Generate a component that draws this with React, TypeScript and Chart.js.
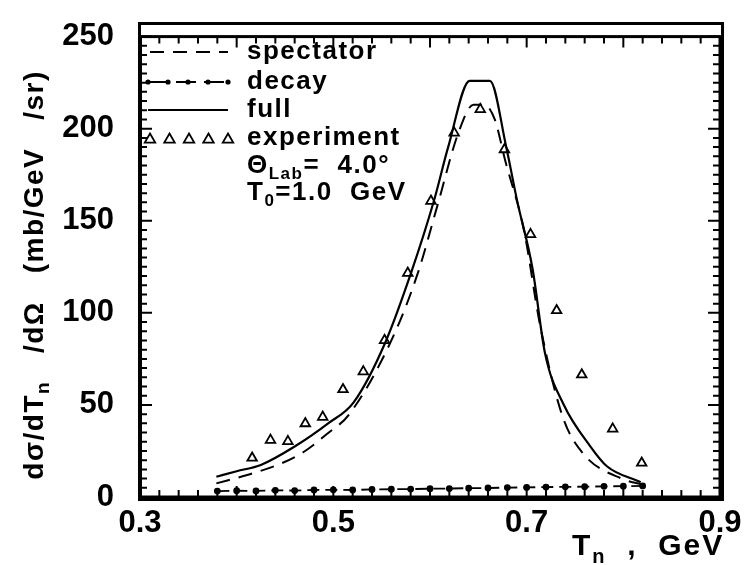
import React, { useEffect, useRef } from "react";
import { Chart, registerables } from "chart.js";
Chart.register(...registerables);

// ---- data ----
const xTickValues = [0.3, 0.5, 0.7, 0.9];
const yTickStep = 50;

const fullX = [0.379, 0.4, 0.425, 0.46, 0.495, 0.521, 0.554, 0.581, 0.604, 0.619, 0.641, 0.662, 0.679, 0.69, 0.706, 0.719, 0.738, 0.766, 0.783, 0.818];
const fullY = [11, 14, 17.4, 27.4, 40.1, 51.4, 84.2, 122.6, 160.7, 190.4, 226, 226, 189.7, 161.2, 124.2, 78, 50.5, 27.4, 16.7, 8];

const specX = [0.379, 0.41, 0.446, 0.47, 0.495, 0.516, 0.561, 0.588, 0.607, 0.63, 0.645, 0.656, 0.667, 0.678, 0.697, 0.714, 0.737, 0.758, 0.8, 0.818];
const specY = [7.4, 11.8, 18.2, 24.7, 34.9, 44.6, 86.1, 122.5, 157, 198.7, 213, 213, 205, 182.3, 145.4, 93, 44, 23.8, 9.6, 7];

const decayX = [0.38, 0.4, 0.42, 0.44, 0.46, 0.48, 0.5, 0.52, 0.54, 0.56, 0.58, 0.6, 0.62, 0.64, 0.66, 0.68, 0.7, 0.72, 0.74, 0.76, 0.78, 0.8, 0.82];
const decayY = [3.2, 3.4, 3.3, 3.6, 3.5, 3.8, 3.9, 3.8, 4.1, 4.2, 4.3, 4.5, 4.6, 4.8, 4.9, 5.1, 5.2, 5.4, 5.5, 5.6, 5.8, 5.9, 6.0];

const expX = [0.416, 0.435, 0.453, 0.471, 0.489, 0.51, 0.531, 0.553, 0.577, 0.601, 0.625, 0.652, 0.677, 0.704, 0.731, 0.757, 0.789, 0.819];
const expY = [21.2, 30.9, 30.2, 39.9, 43.4, 58.4, 68.1, 85.1, 121.6, 160.7, 197.7, 210.5, 188.7, 142.6, 101.3, 66.4, 37, 18.5];

const legendLabels = ["spectator", "decay", "full", "experiment"];

const FONT = "'Liberation Sans', Arial, Helvetica, sans-serif";

const pts = (xs: number[], ys: number[]) => xs.map((x, i) => ({ x, y: ys[i] }));

function triangle(ctx: CanvasRenderingContext2D, x: number, y: number, r: number) {
  ctx.beginPath();
  ctx.moveTo(x, y - r);
  ctx.lineTo(x + r * 0.95, y + r * 0.65);
  ctx.lineTo(x - r * 0.95, y + r * 0.65);
  ctx.closePath();
  ctx.stroke();
}

function pieces(ctx: any, x: number, y: number, parts: [string, number, number][], spacing: number) {
  let cx = x;
  for (const [t, size, dy] of parts) {
    ctx.font = `bold ${size}px ${FONT}`;
    ctx.letterSpacing = `${spacing}px`;
    ctx.fillText(t, cx, y + dy);
    cx += ctx.measureText(t).width;
  }
  ctx.letterSpacing = "0px";
  return cx;
}

const framePlugin = {
  id: "frameBox",
  afterDraw(chart: any) {
    const ctx = chart.ctx;
    const a = chart.chartArea;
    const xs = chart.scales.x;
    const ys = chart.scales.y;
    ctx.save();
    ctx.setLineDash([]);
    ctx.strokeStyle = "#000";
    ctx.lineWidth = 3;
    ctx.strokeRect(a.left, a.top, a.right - a.left, a.bottom - a.top);
    ctx.lineWidth = 2;
    ctx.beginPath();
    for (let i = 0; i <= 30; i++) {
      const px = xs.getPixelForValue(0.3 + i * 0.02);
      const len = i % 5 === 0 ? 11 : 7;
      ctx.moveTo(px, a.bottom);
      ctx.lineTo(px, a.bottom - len);
      ctx.moveTo(px, a.top);
      ctx.lineTo(px, a.top + len);
    }
    for (let j = 0; j <= 50; j++) {
      const py = ys.getPixelForValue(j * 5);
      const len = j % 10 === 0 ? 12 : 7;
      ctx.moveTo(a.left, py);
      ctx.lineTo(a.left + len, py);
      ctx.moveTo(a.right, py);
      ctx.lineTo(a.right - len, py);
    }
    ctx.stroke();
    ctx.restore();
  },
};

const textPlugin = {
  id: "legendText",
  afterDraw(chart: any) {
    const ctx = chart.ctx;
    const a = chart.chartArea;
    ctx.save();
    ctx.strokeStyle = "#000";
    ctx.fillStyle = "#000";
    const rows = [52, 82, 110, 138];
    const x0 = a.left + 8;
    const x1 = a.left + 88;
    const tx = a.left + 107;
    ctx.textBaseline = "middle";
    ctx.textAlign = "left";
    ctx.lineWidth = 2;
    ctx.setLineDash([14, 9]);
    ctx.beginPath();
    ctx.moveTo(x0 + 2, rows[0]);
    ctx.lineTo(x1, rows[0]);
    ctx.stroke();
    ctx.setLineDash([20, 8]);
    ctx.beginPath();
    ctx.moveTo(x0, rows[1]);
    ctx.lineTo(x1, rows[1]);
    ctx.stroke();
    ctx.setLineDash([]);
    for (let k = 0; k < 5; k++) {
      ctx.beginPath();
      ctx.arc(x0 + k * 20, rows[1], 2.6, 0, Math.PI * 2);
      ctx.fill();
    }
    ctx.lineWidth = 2.2;
    ctx.beginPath();
    ctx.moveTo(x0, rows[2]);
    ctx.lineTo(x1, rows[2]);
    ctx.stroke();
    ctx.lineWidth = 1.8;
    for (let k = 0; k < 5; k++) triangle(ctx, x0 + 2 + k * 19.5, rows[3] + 1, 5.5);

    legendLabels.forEach((t, i) => pieces(ctx, tx, rows[i], [[t, 26, 0]], 1.5));
    pieces(ctx, tx, 166, [["Θ", 26, 0], ["Lab", 17, 8], ["=  4.0°", 26, 0]], 1.5);
    pieces(ctx, tx, 193, [["T", 26, 0], ["0", 17, 8], ["=1.0  GeV", 26, 0]], 1.5);

    // x axis title
    pieces(ctx, 572, 547, [["T", 30, 0], ["n", 20, 10], ["  ,  GeV", 30, 0]], 2);

    // y axis title (rotated)
    ctx.translate(35, 275);
    ctx.rotate(-Math.PI / 2);
    const parts: [string, number, number][] = [["dσ/dT", 28, 0], ["n", 19, 9], ["   /dΩ   (mb/GeV   /sr)", 28, 0]];
    let total = 0;
    for (const [t, size] of parts) {
      ctx.font = `bold ${size}px ${FONT}`;
      ctx.letterSpacing = "1.5px";
      total += ctx.measureText(t).width;
    }
    ctx.letterSpacing = "0px";
    pieces(ctx, -total / 2, 0, parts, 1.5);
    ctx.restore();
  },
};

export default function App() {
  const ref = useRef<HTMLCanvasElement | null>(null);
  useEffect(() => {
    document.body.style.margin = "0";
    const canvas = ref.current;
    if (!canvas) return;
    const chart = new Chart(canvas, {
      type: "scatter",
      data: {
        datasets: [
          {
            label: "spectator",
            data: pts(specX, specY),
            showLine: true,
            borderColor: "#000",
            borderWidth: 2,
            borderDash: [14, 9],
            pointRadius: 0,
            cubicInterpolationMode: "monotone",
          },
          {
            label: "decay",
            data: pts(decayX, decayY),
            showLine: true,
            borderColor: "#000",
            borderWidth: 1.8,
            borderDash: [12, 6],
            pointRadius: 2.5,
            pointBackgroundColor: "#000",
            pointBorderColor: "#000",
          },
          {
            label: "full",
            data: pts(fullX, fullY),
            showLine: true,
            borderColor: "#000",
            borderWidth: 2.2,
            pointRadius: 0,
            cubicInterpolationMode: "monotone",
          },
          {
            label: "experiment",
            data: pts(expX, expY),
            showLine: false,
            pointStyle: "triangle",
            pointRadius: 5.5,
            borderWidth: 1.8,
            pointBorderColor: "#000",
            pointBackgroundColor: "rgba(0,0,0,0)",
          },
        ],
      },
      options: {
        animation: false,
        responsive: false,
        layout: { padding: { top: 24, right: 25, left: 0, bottom: 0 } },
        plugins: { legend: { display: false }, tooltip: { enabled: false } },
        scales: {
          x: {
            type: "linear",
            min: 0.3,
            max: 0.9,
            grid: { display: false },
            border: { display: true, color: "#000", width: 3 },
            ticks: {
              color: "#000",
              font: { family: FONT, size: 31, weight: "bold" },
              padding: 0,
              maxRotation: 0,
              autoSkip: false,
              callback: (v: any) => Number(v).toFixed(1),
            },
            afterBuildTicks: (s: any) => {
              s.ticks = xTickValues.map((v) => ({ value: v }));
            },
            afterFit: (s: any) => {
              s.height = 68;
            },
          },
          y: {
            type: "linear",
            min: 0,
            max: 250,
            grid: { display: false },
            border: { display: true, color: "#000", width: 3 },
            ticks: {
              stepSize: yTickStep,
              color: "#000",
              font: { family: FONT, size: 31, weight: "bold" },
              padding: 18,
            },
            afterFit: (s: any) => {
              s.width = 140;
            },
          },
        },
      },
      plugins: [framePlugin, textPlugin],
    } as any);
    return () => chart.destroy();
  }, []);
  return (
    <div style={{ position: "absolute", left: 0, top: 0, width: 745, height: 565, background: "#fff" }}>
      <canvas ref={ref} width={745} height={565} style={{ display: "block", position: "absolute", left: 0, top: 0 }} />
      <div
        style={{
          position: "absolute",
          left: 138,
          top: 22,
          width: 580,
          height: 473,
          border: "3px solid #000",
          boxSizing: "content-box",
          pointerEvents: "none",
        }}
      />
    </div>
  );
}
